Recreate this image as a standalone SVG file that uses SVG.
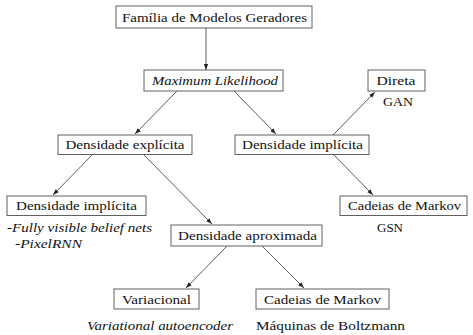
<svg xmlns="http://www.w3.org/2000/svg" width="473" height="335" viewBox="0 0 473 335">
  <style>
    .box { fill: #ffffff; stroke: #606060; stroke-width: 1; }
    .lbl { font-family: "Liberation Serif", "DejaVu Serif", serif; font-size: 13.5px; fill: #111111; text-anchor: middle; }
    .it { font-style: italic; }
    .left { text-anchor: start; }
    .edge { stroke: #333333; stroke-width: 0.8; fill: none; marker-end: url(#arrow); }
  </style>
  <defs>
    <marker id="arrow" viewBox="0 0 10 10" refX="10" refY="5" markerWidth="6" markerHeight="6" markerUnits="userSpaceOnUse" orient="auto">
      <path d="M0,1.5 L10,5 L0,8.5 Z" fill="#222222"/>
    </marker>
  </defs>
  <rect width="473" height="335" fill="#ffffff"/>

  <g id="connectors">
    <line class="edge" x1="206" y1="28" x2="206" y2="70"/>
    <line class="edge" x1="177" y1="91" x2="135" y2="134"/>
    <line class="edge" x1="234" y1="91" x2="276" y2="134"/>
    <line class="edge" x1="333" y1="135" x2="375" y2="92"/>
    <line class="edge" x1="93" y1="154" x2="53" y2="195"/>
    <line class="edge" x1="143" y1="154" x2="212" y2="224"/>
    <line class="edge" x1="333" y1="154" x2="373" y2="195"/>
    <line class="edge" x1="227" y1="246" x2="186" y2="288"/>
    <line class="edge" x1="262" y1="246" x2="304" y2="288"/>
  </g>

  <g id="familia">
    <rect class="box" x="116" y="6" width="196" height="22"/>
    <text class="lbl" x="214.5" y="21.5" textLength="185" lengthAdjust="spacingAndGlyphs">Família de Modelos Geradores</text>
  </g>

  <g id="max-likelihood">
    <rect class="box" x="144" y="70" width="139" height="21"/>
    <text class="lbl it" x="215" y="85" textLength="126" lengthAdjust="spacingAndGlyphs">Maximum Likelihood</text>
  </g>

  <g id="direta">
    <rect class="box" x="368" y="70" width="57" height="21"/>
    <text class="lbl" x="396" y="85" textLength="39" lengthAdjust="spacingAndGlyphs">Direta</text>
    <text class="lbl" x="398" y="105.5" textLength="30" lengthAdjust="spacingAndGlyphs">GAN</text>
  </g>

  <g id="densidade-explicita">
    <rect class="box" x="58" y="135" width="134" height="19.5"/>
    <text class="lbl" x="125" y="149" textLength="119" lengthAdjust="spacingAndGlyphs">Densidade explícita</text>
  </g>

  <g id="densidade-implicita-direita">
    <rect class="box" x="235" y="135" width="134" height="19.5"/>
    <text class="lbl" x="302.5" y="149" textLength="121" lengthAdjust="spacingAndGlyphs">Densidade implícita</text>
  </g>

  <g id="densidade-implicita-esquerda">
    <rect class="box" x="7" y="196" width="139" height="19.5"/>
    <text class="lbl" x="76.5" y="210" textLength="121" lengthAdjust="spacingAndGlyphs">Densidade implícita</text>
    <text class="lbl it left" x="7" y="232" textLength="145" lengthAdjust="spacingAndGlyphs">-Fully visible belief nets</text>
    <text class="lbl it left" x="15" y="248" textLength="67" lengthAdjust="spacingAndGlyphs">-PixelRNN</text>
  </g>

  <g id="cadeias-markov-gsn">
    <rect class="box" x="340" y="196" width="127" height="19.5"/>
    <text class="lbl" x="404.5" y="210" textLength="113" lengthAdjust="spacingAndGlyphs">Cadeias de Markov</text>
    <text class="lbl" x="390" y="232" textLength="26" lengthAdjust="spacingAndGlyphs">GSN</text>
  </g>

  <g id="densidade-aproximada">
    <rect class="box" x="171" y="225" width="151" height="21"/>
    <text class="lbl" x="247.5" y="240" textLength="139" lengthAdjust="spacingAndGlyphs">Densidade aproximada</text>
  </g>

  <g id="variacional">
    <rect class="box" x="114" y="289" width="85" height="20"/>
    <text class="lbl" x="156.5" y="303.5" textLength="69" lengthAdjust="spacingAndGlyphs">Variacional</text>
    <text class="lbl it" x="160" y="330" textLength="146" lengthAdjust="spacingAndGlyphs">Variational autoencoder</text>
  </g>

  <g id="cadeias-markov-boltzmann">
    <rect class="box" x="256" y="289" width="133" height="20"/>
    <text class="lbl" x="322.5" y="303.5" textLength="117" lengthAdjust="spacingAndGlyphs">Cadeias de Markov</text>
    <text class="lbl" x="330.5" y="330" textLength="149" lengthAdjust="spacingAndGlyphs">Máquinas de Boltzmann</text>
  </g>
</svg>
